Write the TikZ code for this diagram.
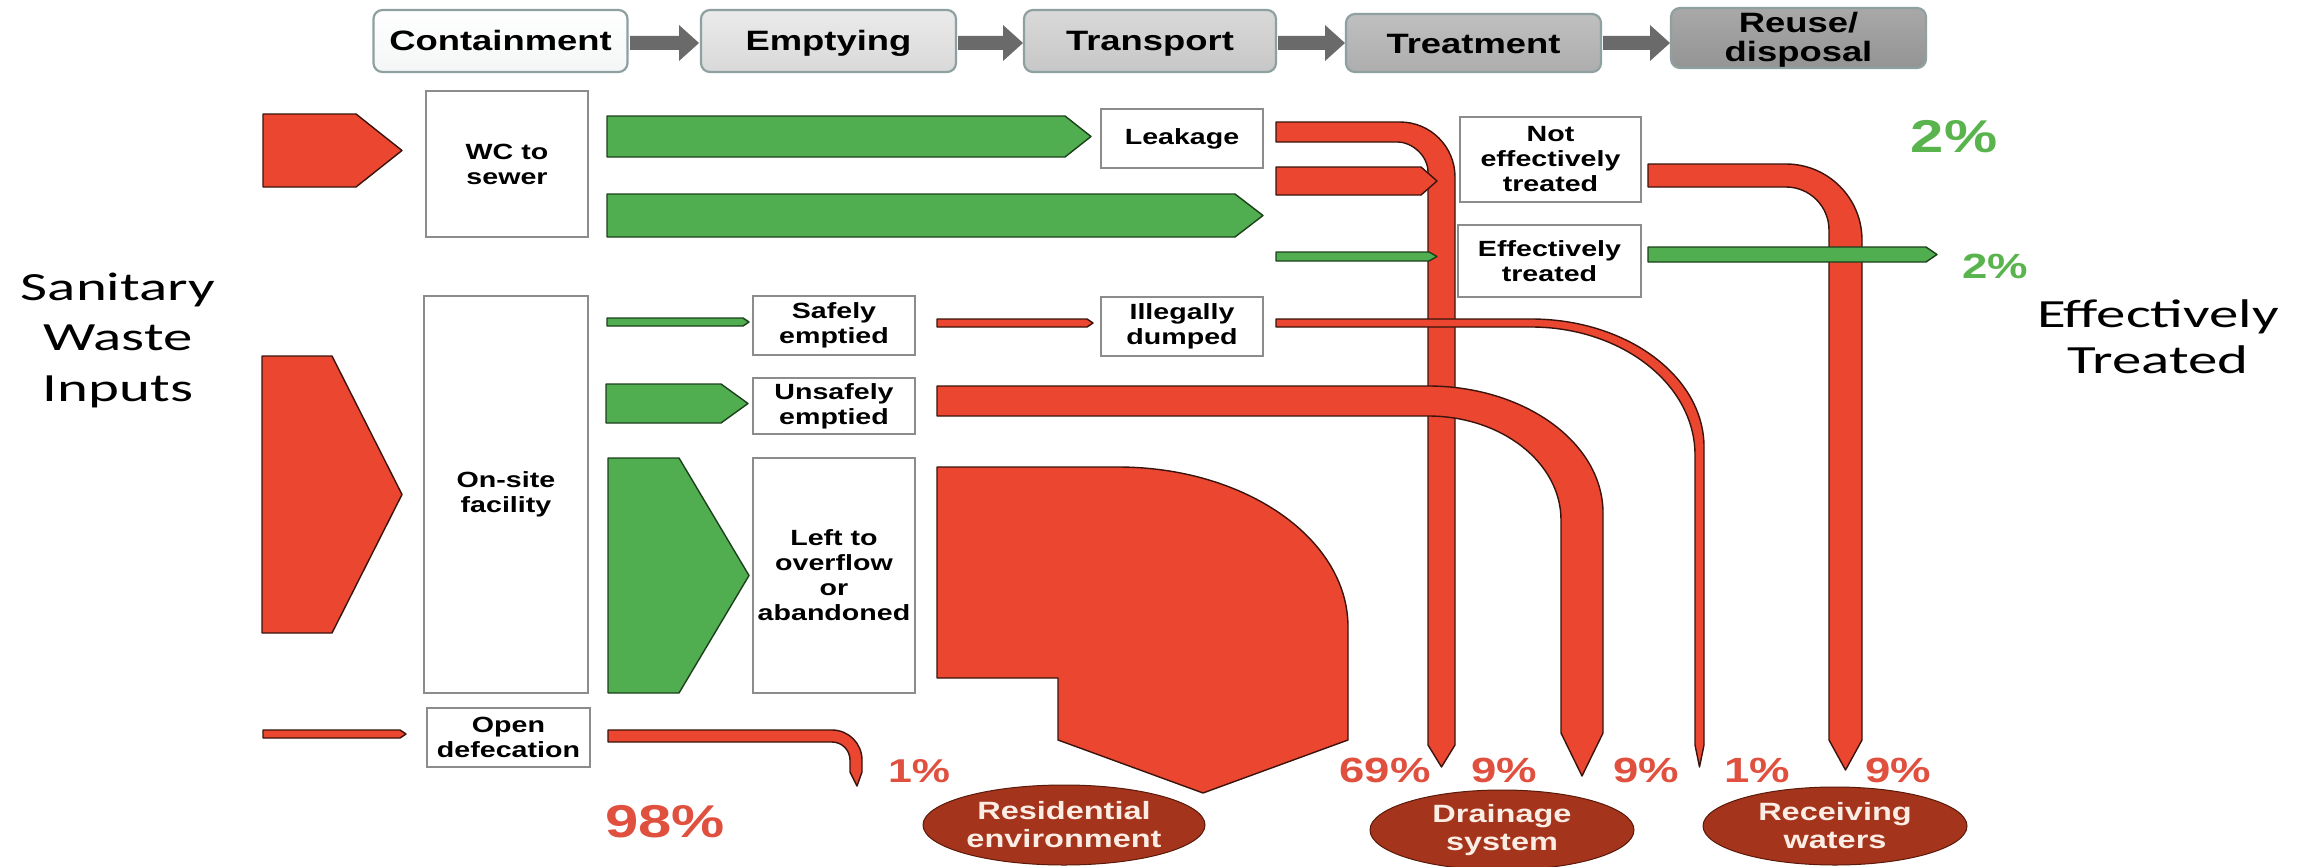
\documentclass[tikz,border=0pt]{standalone}
\usepackage{fontspec}
\usetikzlibrary{shapes.geometric}
\newfontfamily\bxfont[FakeStretch=1.3]{Liberation Sans}
\newfontfamily\calfont[FakeStretch=1.47]{Carlito}
\definecolor{fred}{HTML}{EA4630}
\definecolor{fredd}{HTML}{3A140C}
\definecolor{fgreen}{HTML}{50AE50}
\definecolor{fgreend}{HTML}{1C3F1C}
\definecolor{pcred}{HTML}{E0503F}
\definecolor{pcgreen}{HTML}{5AB44E}
\definecolor{ellfill}{HTML}{A5341C}
\definecolor{elldraw}{HTML}{5A1A0A}
\definecolor{elltext}{HTML}{FBEDE4}
\definecolor{boxline}{HTML}{8C8C8C}
\definecolor{hdrline}{HTML}{8FA0A0}
\definecolor{hdrarrow}{HTML}{6A6A6A}
\newcommand\blockarrow[6]{% style, x0, xtipstart, xtip, ytop, ybot
  \draw[#1] (#2,#5) -- (#3,#5) -- (#4,{(#5+#6)/2}) -- (#3,#6) -- (#2,#6) -- cycle;}
\newcommand\hdrarrowpath[2]{% x0, x1
  \fill[hdrarrow] (#1,36) -- ({#2-20},36) -- ({#2-20},25) -- (#2,43) -- ({#2-20},61) -- ({#2-20},50) -- (#1,50) -- cycle;}
\tikzset{
  redflow/.style={fill=fred, draw=fredd, line width=1.4pt, line join=round},
  greenflow/.style={fill=fgreen, draw=fgreend, line width=1.4pt, line join=round},
  stagebase/.style={draw=hdrline, line width=2.2pt, rounded corners=9pt, inner sep=0pt,
    font=\bxfont\bfseries\fontsize{28}{33}\selectfont, align=center},
  stagebox/.style={stagebase, text height=20pt, text depth=0pt},
  procbox/.style={draw=boxline, fill=white, line width=1.5pt, inner sep=0pt,
    font=\bxfont\bfseries\fontsize{22}{25}\selectfont, align=center},
  pct/.style={font=\bxfont\bfseries\fontsize{35}{35}\selectfont, text=pcred, anchor=base},
  bigpct/.style={font=\bxfont\bfseries\fontsize{46}{46}\selectfont, anchor=base},
  sink/.style={ellipse, fill=ellfill, draw=elldraw, line width=1pt, inner sep=0pt,
    text=elltext, font=\bxfont\bfseries\fontsize{25}{28}\selectfont, align=center},
  sidetext/.style={font=\calfont\fontsize{40}{50}\selectfont, anchor=base}
}
\begin{document}
\begin{tikzpicture}[x=1pt,y=-1pt]
\useasboundingbox (0,0) rectangle (2310,867);
\fill[white] (0,0) rectangle (2310,867);

% ---- header stages
\node[stagebox, top color=white, bottom color=white!90!hdrline, minimum width=254pt, minimum height=62pt] (s1) at (500.5,41) {Containment};
\node[stagebox, top color=black!8, bottom color=black!15, minimum width=255pt, minimum height=62pt] (s2) at (828.5,41) {Emptying};
\node[stagebox, top color=black!15, bottom color=black!22, minimum width=252pt, minimum height=62pt] (s3) at (1150,41) {Transport};
\node[stagebox, top color=black!25, bottom color=black!32, minimum width=255pt, minimum height=58pt] (s4) at (1473.5,43) {Treatment};
\node[stagebase, top color=black!34, bottom color=black!42, minimum width=255pt, minimum height=60pt] (s5) at (1798.5,38) {};
\node[font=\bxfont\bfseries\fontsize{28}{33}\selectfont, anchor=base] (s5a) at (1798.5,33) {Reuse/};
\node[font=\bxfont\bfseries\fontsize{28}{33}\selectfont, anchor=base] (s5b) at (1798.5,62) {disposal};
\hdrarrowpath{630}{699}
\hdrarrowpath{958}{1023}
\hdrarrowpath{1278}{1345}
\hdrarrowpath{1603}{1670}

% ---- side texts
\node[sidetext] (t1) at (118,300) {Sanitary};
\node[sidetext] (t2) at (118,350) {Waste};
\node[sidetext] (t3) at (118,401) {Inputs};
\node[sidetext] (t4) at (2158,327) {Effectively};
\node[sidetext] (t5) at (2158,373) {Treated};

% ---- input arrows
\blockarrow{redflow}{263}{356}{402}{114}{187}
\blockarrow{redflow}{262}{332}{402}{356}{633}
\blockarrow{redflow}{263}{400}{406}{730}{738}

% ---- boxes
\node[procbox, minimum width=162pt, minimum height=146pt] (wc) at (507,164) {WC to\\sewer};
\node[procbox, minimum width=164pt, minimum height=397pt] (onsite) at (506,494.5) {On-site\\facility};
\node[procbox, minimum width=163pt, minimum height=59pt] (open) at (508.5,737.5) {Open\\defecation};
\node[procbox, minimum width=162pt, minimum height=59pt] (leak) at (1182,138.5) {Leakage};
\node[procbox, minimum width=162pt, minimum height=59pt] (safe) at (834,325.5) {Safely\\emptied};
\node[procbox, minimum width=162pt, minimum height=56pt] (unsafe) at (834,406) {Unsafely\\emptied};
\node[procbox, minimum width=162pt, minimum height=235pt] (left) at (834,575.5) {Left to\\overflow\\or\\abandoned};
\node[procbox, minimum width=162pt, minimum height=59pt] (illeg) at (1182,326.5) {Illegally\\dumped};
\node[procbox, minimum width=181pt, minimum height=85pt] (noteff) at (1550.5,159.5) {Not\\effectively\\treated};
\node[procbox, minimum width=183pt, minimum height=72pt] (eff) at (1549.5,261) {Effectively\\treated};

% ---- green flows
\blockarrow{greenflow}{607}{1065}{1091}{116}{157}
\blockarrow{greenflow}{607}{1235}{1263}{194}{237}
\blockarrow{greenflow}{607}{743}{749}{318}{326}
\blockarrow{greenflow}{606}{721}{748}{384}{423}
\blockarrow{greenflow}{608}{679}{749}{458}{693}

% ---- red flows
% leakage band to drainage (69%)
\draw[redflow] (1276,122) -- (1400,122) .. controls (1430.4,122) and (1455,146.6) .. (1455,177)
  -- (1455,745) -- (1441.5,767) -- (1428,745) -- (1428,172)
  .. controls (1428,155.4) and (1411.4,142) .. (1398,142) -- (1276,142) -- cycle;
% not effectively treated to receiving waters
\draw[redflow] (1648,164) -- (1786,164) .. controls (1828,164) and (1862,198) .. (1862,240)
  -- (1862,740) -- (1845.5,770) -- (1829,740) -- (1829,230)
  .. controls (1829,206.3) and (1809.7,187) .. (1786,187) -- (1648,187) -- cycle;
\blockarrow{redflow}{1276}{1421}{1437}{167}{195}
\blockarrow{greenflow}{1276}{1429}{1437}{252}{261}
% illegally dumped to receiving waters (1%)
\draw[redflow] (1276,319) -- (1531,319) .. controls (1626.5,319) and (1704,376.3) .. (1704,447)
  -- (1704,745) -- (1699.5,767) -- (1695,745) -- (1695,455)
  .. controls (1695,384.3) and (1621.6,327) .. (1531,327) -- (1276,327) -- cycle;
% unsafely emptied to drainage (9%)
\draw[redflow] (937,386) -- (1428,386) .. controls (1524.7,386) and (1603,442.9) .. (1603,513)
  -- (1603,733) -- (1582,776) -- (1561,733) -- (1561,520)
  .. controls (1561,462.6) and (1501.5,416) .. (1428,416) -- (937,416) -- cycle;
% left to overflow to residential environment
\draw[redflow] (937,467) -- (1118,467) .. controls (1245,467) and (1348,538.6) .. (1348,627)
  -- (1348,740) -- (1203,793) -- (1058,740) -- (1058,678) -- (937,678) -- cycle;
% open defecation
\draw[redflow] (608,730) -- (832,730) .. controls (848.6,730) and (862,743.4) .. (862,760)
  -- (862,772) -- (857,786) -- (850,772) -- (850,760)
  .. controls (850,750.1) and (841.9,742) .. (832,742) -- (608,742) -- cycle;
\blockarrow{redflow}{937}{1087}{1093}{319}{327}
\blockarrow{greenflow}{1648}{1926}{1937}{247}{262}

% ---- percentages
\node[bigpct, text=pcred] (p98) at (665,837) {98\%};
\node[pct, font=\bxfont\bfseries\fontsize{33}{33}\selectfont] (p1a) at (919,782) {1\%};
\node[pct] (p69) at (1385,782) {69\%};
\node[pct] (p9a) at (1504,782) {9\%};
\node[pct] (p9b) at (1646,782) {9\%};
\node[pct] (p1b) at (1757,782) {1\%};
\node[pct] (p9c) at (1898,782) {9\%};
\node[bigpct, text=pcgreen] (p2a) at (1954,152) {2\%};
\node[pct, text=pcgreen] (p2b) at (1995,278) {2\%};

% ---- sinks
\node[sink, minimum width=282pt, minimum height=80pt] (res) at (1064,825) {Residential\\environment};
\node[sink, minimum width=264pt, minimum height=80pt] (drain) at (1502,830) {Drainage\\system};
\node[sink, minimum width=264pt, minimum height=78pt] (recv) at (1835,826) {Receiving\\waters};
\end{tikzpicture}
\end{document}
